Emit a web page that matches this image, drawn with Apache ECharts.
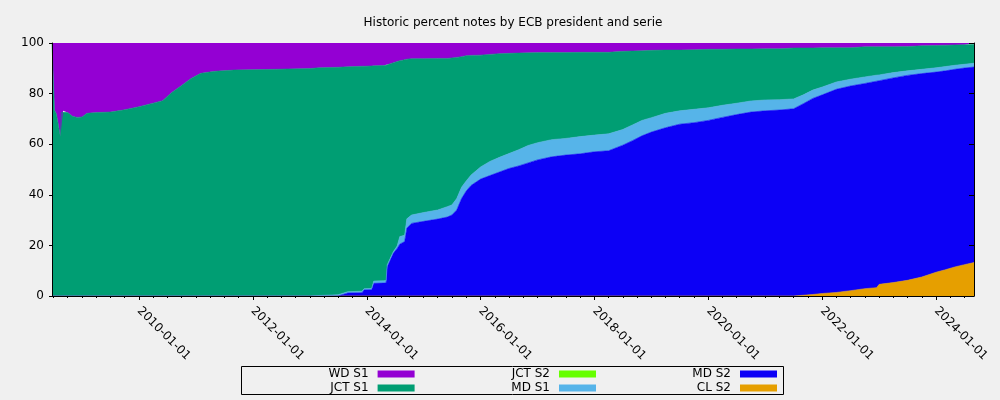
<!DOCTYPE html>
<html><head><meta charset="utf-8">
<script src="https://cdn.jsdelivr.net/npm/echarts@6/dist/echarts.min.js"></script>
<style>html,body{margin:0;padding:0;background:#f0f0f0}#c{width:1000px;height:400px}</style>
</head><body><div id="c"></div>
<script>
const dates = [
'2008-06-22','2008-07-08','2008-07-20','2008-08-01','2008-08-14','2008-08-22','2008-09-01','2008-10-01','2008-11-01','2008-12-01',
'2009-01-01','2009-02-01','2009-04-01','2009-07-01','2009-10-01',
'2010-01-01','2010-04-01','2010-06-01','2010-08-01','2010-10-01','2010-12-01',
'2011-02-01','2011-05-01','2011-09-01','2012-06-01',
'2013-01-01','2013-03-01','2013-07-01','2013-09-01','2013-12-01','2013-12-15',
'2014-02-01','2014-02-15','2014-04-20','2014-05-05','2014-05-12','2014-06-01','2014-06-20','2014-07-15','2014-08-01','2014-09-01','2014-09-15','2014-10-15',
'2015-01-01','2015-04-01','2015-06-01','2015-07-01','2015-08-01','2015-09-01','2015-10-01','2015-11-01',
'2016-01-01','2016-03-01','2016-05-01','2016-07-01','2016-09-01','2016-11-01',
'2017-01-01','2017-04-01','2017-07-01','2017-10-01',
'2018-01-01','2018-04-01','2018-07-01','2018-09-01','2018-11-01',
'2019-01-01','2019-04-01','2019-07-01','2019-10-01',
'2020-01-01','2020-04-01','2020-07-01','2020-10-01',
'2021-01-01','2021-04-01','2021-07-01','2021-09-01','2021-11-01',
'2022-01-01','2022-04-01','2022-07-01','2022-10-01','2022-12-15',
'2023-01-01','2023-04-01','2023-07-01','2023-10-01',
'2024-01-01','2024-03-01','2024-05-01','2024-07-01','2024-08-31'
];
const wdS1 = [
0,26.5,28,32,37,27.4,26.8,27.5,29,29.4,
29.2,27.8,27.5,27.3,26.4,
25.2,23.8,22.8,19.5,16.8,14,
12,11.2,10.7,10.4,
10.1,9.8,9.6,9.4,9.2,9.2,
9.1,9.0,8.9,8.8,8.5,8.2,7.8,7.3,7.0,6.6,6.4,6.2,
6.2,6.1,6.1,5.9,5.7,5.4,5.0,4.9,
4.8,4.5,4.2,4.1,4.0,3.9,
3.8,3.8,3.8,3.7,
3.7,3.7,3.3,3.2,3.1,
2.9,2.8,2.8,2.7,
2.5,2.5,2.4,2.4,
2.3,2.3,2.0,2.0,2.0,
1.9,1.9,1.9,1.5,1.5,
1.5,1.5,1.4,1.1,
1.0,0.9,0.8,0.7,0.6
];
const jctS1 = [
100,73.5,72,68,63,72.6,73.2,72.5,71,70.6,
70.8,72.2,72.5,72.7,73.6,
74.8,76.2,77.2,80.5,83.2,86,
88,88.8,89.3,89.6,
89.9,90.0,89.9,88.9,88.9,87.9,
87.9,85.1,85.1,85.1,79.2,76.8,74.7,72.9,69.5,69.4,63.1,61.8,
60.8,59.9,58.6,58.1,55.8,51.6,49.5,47.3,
44.2,42.3,41.0,39.6,38.2,36.6,
35.6,34.4,33.9,33.3,
32.7,32.2,30.9,29.2,27.5,
26.6,25.0,24.0,23.5,
23.1,22.1,21.4,20.5,
20.2,20.1,20.1,18.5,16.6,
15.5,13.5,12.4,11.9,11.2,
11.1,10.2,9.6,9.3,
8.8,8.4,8.0,7.7,7.4
];
const jctS2 = [
0,0,0,0,0,0,0,0,0,0,
0,0,0,0,0,
0,0,0,0,0,0,
0,0,0,0,
0,0,0,0,0,0,
0,0,0,0,0,0,0,0,0,0,0,0,
0,0,0,0,0,0,0,0,
0,0,0,0,0,0,
0,0,0,0,
0,0,0,0,0,
0,0,0,0,
0,0,0,0,
0,0,0,0,0,
0,0,0,0,0,
0,0,0,0,
0,0,0,0,0
];
const mdS1 = [
0,0,0,0,0,0,0,0,0,0,
0,0,0,0,0,
0,0,0,0,0,0,
0,0,0,0,
0,0.2,0.5,0.5,0.6,0.5,
0.5,0.9,0.9,0.9,0.7,0.8,0.6,1.0,3.0,2.5,3.7,3.3,
3.5,3.6,4.1,4.0,4.5,4.5,4.0,4.1,
4.8,5.6,5.8,5.9,6.4,6.9,
6.8,6.8,6.6,6.8,
6.6,6.7,6.2,6.2,6.1,
5.7,5.7,5.3,5.3,
5.0,4.8,4.5,4.4,
4.3,4.1,3.9,3.5,3.3,
3.1,2.9,2.7,2.6,2.4,
2.3,2.1,1.8,1.7,
1.7,1.7,1.6,1.5,1.5
];
const mdS2 = [
0,0,0,0,0,0,0,0,0,0,
0,0,0,0,0,
0,0,0,0,0,0,
0,0,0,0,
0,0,0,1.2,1.3,2.4,
2.5,5.0,5.1,5.2,11.6,14.2,16.9,18.8,20.5,21.5,26.8,28.7,
29.5,30.4,31.2,32,34,38.5,41.5,43.7,
46.2,47.6,49,50.4,51.4,52.6,
53.8,55,55.7,56.2,
57,57.4,59.6,61.4,63.3,
64.8,66.5,67.9,68.5,
69.4,70.6,71.7,72.7,
73.2,73.5,74.0,75.7,77.5,
78.5,80.3,80.9,81.1,81.6,
80.5,80.9,81.0,80.4,
79.1,78.6,78.1,77.7,77.3
];
const clS2 = [
0,0,0,0,0,0,0,0,0,0,
0,0,0,0,0,
0,0,0,0,0,0,
0,0,0,0,
0,0,0,0,0,0,
0,0,0,0,0,0,0,0,0,0,0,0,
0,0,0,0,0,0,0,0,
0,0,0,0,0,0,
0,0,0,0,
0,0,0,0,0,
0,0,0,0,
0,0,0,0,
0,0,0,0.3,0.6,
1.0,1.4,2.1,2.9,3.3,
4.6,5.3,6.2,7.5,
9.4,10.4,11.5,12.4,13.2
];
const majorTickLabels = ['2010-01-01','2012-01-01','2014-01-01','2016-01-01','2018-01-01','2020-01-01','2022-01-01','2024-01-01'];
const xMin = '2008-06-22', xMax = '2024-08-31';

const FONT = 'DejaVu Sans';
const ts = s => Date.parse(s);
const pad = n => (n < 10 ? '0' : '') + n;
const fmt = v => { const d = new Date(v); return d.getUTCFullYear() + '-' + pad(d.getUTCMonth() + 1) + '-' + pad(d.getUTCDate()); };

const minorTicks = [];
for (let y = 2008; y <= 2024; y++) {
  for (let m = 0; m < 12; m += 3) {
    const t = Date.UTC(y, m, 1);
    if (t >= ts(xMin) && t <= ts(xMax)) minorTicks.push(t);
  }
}

const seriesDefs = [
  { name: 'CL S2', data: clS2, color: '#e69f00', edge: 0.6 },
  { name: 'MD S2', data: mdS2, color: '#0c00f6', edge: 0.6 },
  { name: 'MD S1', data: mdS1, color: '#56b4e9', edge: 0.6 },
  { name: 'JCT S2', data: jctS2, color: '#66ff00', edge: 0 },
  { name: 'JCT S1', data: jctS1, color: '#009e73', edge: 0.6 },
  { name: 'WD S1', data: wdS1, color: '#9400d3', edge: 0 }
];

const legendPos = [
  { name: 'WD S1', right: 585.4, top: 368 },
  { name: 'JCT S1', right: 585.4, top: 382 },
  { name: 'JCT S2', right: 404, top: 368 },
  { name: 'MD S1', right: 404, top: 382 },
  { name: 'MD S2', right: 223, top: 368 },
  { name: 'CL S2', right: 223, top: 382 }
];

const chart = echarts.init(document.getElementById('c'), null, { renderer: 'canvas' });
chart.setOption({
  backgroundColor: '#f0f0f0',
  animation: false,
  title: {
    text: 'Historic percent notes by ECB president and serie',
    left: 513, top: 17, textAlign: 'center', padding: 0,
    textStyle: { fontFamily: FONT, fontSize: 12, fontWeight: 'normal', color: '#000' }
  },
  grid: { left: 52, right: 26, top: 43, bottom: 104, containLabel: false },
  xAxis: [
    {
      type: 'value', min: ts(xMin), max: ts(xMax), position: 'bottom', z: 5,
      axisLine: { show: true, lineStyle: { color: '#000', width: 1 } },
      axisTick: { show: true, length: 4, customValues: majorTickLabels.map(ts), lineStyle: { color: '#000' } },
      axisLabel: { show: true, customValues: majorTickLabels.map(ts), rotate: -45, margin: 13, formatter: fmt,
                   fontFamily: FONT, fontSize: 12, color: '#000' },
      splitLine: { show: false }
    },
    {
      type: 'value', min: ts(xMin), max: ts(xMax), position: 'bottom',
      axisLine: { show: false },
      axisTick: { show: true, length: 2, customValues: minorTicks, lineStyle: { color: '#000' } },
      axisLabel: { show: false },
      splitLine: { show: false }
    },
    {
      type: 'time', min: ts(xMin), max: ts(xMax), show: false,
      axisLine: { show: false }, axisTick: { show: false }, axisLabel: { show: false }, splitLine: { show: false }
    }
  ],
  yAxis: [
    {
      type: 'value', min: 0, max: 100, interval: 20, position: 'left', z: 5,
      axisLine: { show: true, lineStyle: { color: '#000' } },
      axisTick: { show: true, length: 3, lineStyle: { color: '#000' } },
      axisLabel: { margin: 8, fontFamily: FONT, fontSize: 12, color: '#000' },
      splitLine: { show: false }
    },
    {
      type: 'value', min: 0, max: 100, interval: 20, position: 'right', z: 5,
      axisLine: { show: true, lineStyle: { color: '#000' } },
      axisTick: { show: true, inside: true, length: 5, lineStyle: { color: '#000' } },
      axisLabel: { show: false },
      splitLine: { show: false }
    }
  ],
  legend: legendPos.map(l => ({
    data: [l.name], right: l.right, top: l.top, align: 'right', orient: 'horizontal',
    itemWidth: 37, itemHeight: 7, padding: 0, icon: 'rect', selectedMode: false,
    textStyle: { fontFamily: FONT, fontSize: 12, color: '#000', padding: [0, 4, 0, 0] }
  })),
  graphic: [{
    type: 'rect', silent: true,
    shape: { x: 241.5, y: 366.5, width: 542, height: 28 },
    style: { fill: 'none', stroke: '#000', lineWidth: 1 }
  }],
  series: seriesDefs.map(s => ({
    name: s.name, type: 'line', stack: 'total', xAxisIndex: 2, yAxisIndex: 0,
    symbol: 'none', smooth: false, color: s.color, z: 1,
    lineStyle: { width: s.edge, color: s.color, opacity: s.edge ? 1 : 0 },
    areaStyle: { color: s.color, opacity: 1 },
    data: dates.map((d, i) => [ts(d), s.data[i]])
  }))
});
</script>
</body></html>
